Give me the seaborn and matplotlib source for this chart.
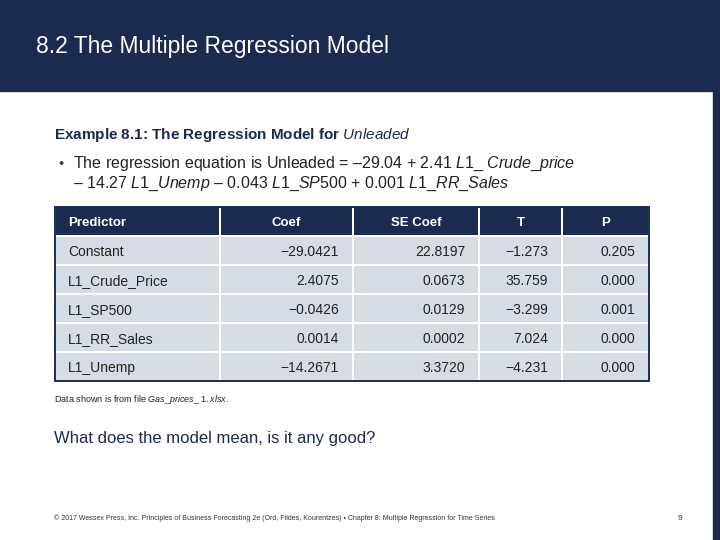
import matplotlib
matplotlib.use("Agg")
import matplotlib.pyplot as plt
import seaborn as sns
from matplotlib.patches import Rectangle

sns.set_theme(style="white")
plt.rcParams['font.family'] = ['Liberation Sans', 'DejaVu Sans']
plt.rcParams['mathtext.fontset'] = 'custom'
plt.rcParams['mathtext.rm'] = 'Liberation Sans'
plt.rcParams['mathtext.it'] = 'Liberation Sans:italic'
plt.rcParams['mathtext.bf'] = 'Liberation Sans:bold'

columns = ["Predictor", "Coef", "SE Coef", "T", "P"]
predictors = ["Constant", "L1_Crude_Price", "L1_SP500", "L1_RR_Sales", "L1_Unemp"]
coef = ["\u221229.0421", "2.4075", "\u22120.0426", "0.0014", "\u221214.2671"]
se_coef = ["22.8197", "0.0673", "0.0129", "0.0002", "3.3720"]
t_vals = ["\u22121.273", "35.759", "\u22123.299", "7.024", "\u22124.231"]
p_vals = ["0.205", "0.000", "0.001", "0.000", "0.000"]

NAVY = "#1b2a4f"
CELL = "#d6dce5"

fig = plt.figure(figsize=(7.2, 5.4), dpi=100)
ax = fig.add_axes([0, 0, 1, 1])
ax.set_xlim(0, 720); ax.set_ylim(540, 0); ax.axis("off")

ax.add_patch(Rectangle((0, 0), 720, 91, color=NAVY))
ax.add_patch(Rectangle((713, 91), 7, 449, color=NAVY))
ax.text(36, 46, "8.2 The Multiple Regression Model", color="white", fontsize=16.5, va="center")

ax.text(54, 135, "Example 8.1: The Regression Model for $\\it{Unleaded}$", fontsize=11, weight="bold",
        color=NAVY, va="center")

ax.text(58, 164, "\u2022", fontsize=10.5, color="#404040", va="center")
ax.text(73, 164, "The regression equation is Unleaded = \u201329.04 + 2.41 $\\it{L1\\_\\ Crude\\_price}$",
        fontsize=11.5, color="#222222", va="center")
ax.text(73, 184, "\u2013 14.27 $\\it{L1\\_Unemp}$ \u2013 0.043 $\\it{L1\\_SP500}$ + 0.001 $\\it{L1\\_RR\\_Sales}$",
        fontsize=11.5, color="#222222", va="center")

xb = [55, 220, 353, 479, 562, 649]
yb = [207, 236, 265, 294, 323, 352, 381]
rows = list(zip(predictors, coef, se_coef, t_vals, p_vals))
ax.add_patch(Rectangle((xb[0], yb[0]), xb[-1]-xb[0], yb[-1]-yb[0], facecolor="white", edgecolor=NAVY, lw=1.2))
for j in range(5):
    x0, x1 = xb[j], xb[j+1]
    ax.add_patch(Rectangle((x0+0.6, yb[0]), x1-x0-1.2, yb[1]-yb[0]-0.6, facecolor=NAVY, edgecolor="none"))
    hx = x0 + 13 if j == 0 else (x0 + x1) / 2
    ax.text(hx, (yb[0]+yb[1])/2, columns[j], color="white", fontsize=9.5, weight="bold",
            ha="left" if j == 0 else "center", va="center_baseline")
    for i, r in enumerate(rows):
        y0, y1 = yb[i+1], yb[i+2]
        ax.add_patch(Rectangle((x0+0.6, y0+0.6), x1-x0-1.2, y1-y0-1.2, facecolor=CELL, edgecolor="none"))
        if j == 0:
            ax.text(x0+13, (y0+y1)/2, r[j], fontsize=10, color="#222222", ha="left", va="center_baseline")
        else:
            ax.text(x1-14, (y0+y1)/2, r[j], fontsize=10, color="#222222", ha="right", va="center_baseline")
ax.add_patch(Rectangle((xb[0], yb[0]), xb[-1]-xb[0], yb[-1]-yb[0], facecolor="none", edgecolor=NAVY, lw=1.2))

ax.text(54, 400, "Data shown is from file $\\it{Gas\\_prices\\_\\ 1.xlsx}$.", fontsize=6.5, color="#222222", va="center")
ax.text(54, 438, "What does the model mean, is it any good?", fontsize=12, color=NAVY, va="center")
ax.text(54, 518, "\u00a9 2017 Wessex Press, Inc. Principles of Business Forecasting 2e (Ord, Fildes, Kourentzes) \u2022 Chapter 8: Multiple Regression for Time Series",
        fontsize=5, color="#333333", va="center")
ax.text(678, 518, "9", fontsize=6, color="#333333", va="center")

fig.savefig("out.png", dpi=100)
